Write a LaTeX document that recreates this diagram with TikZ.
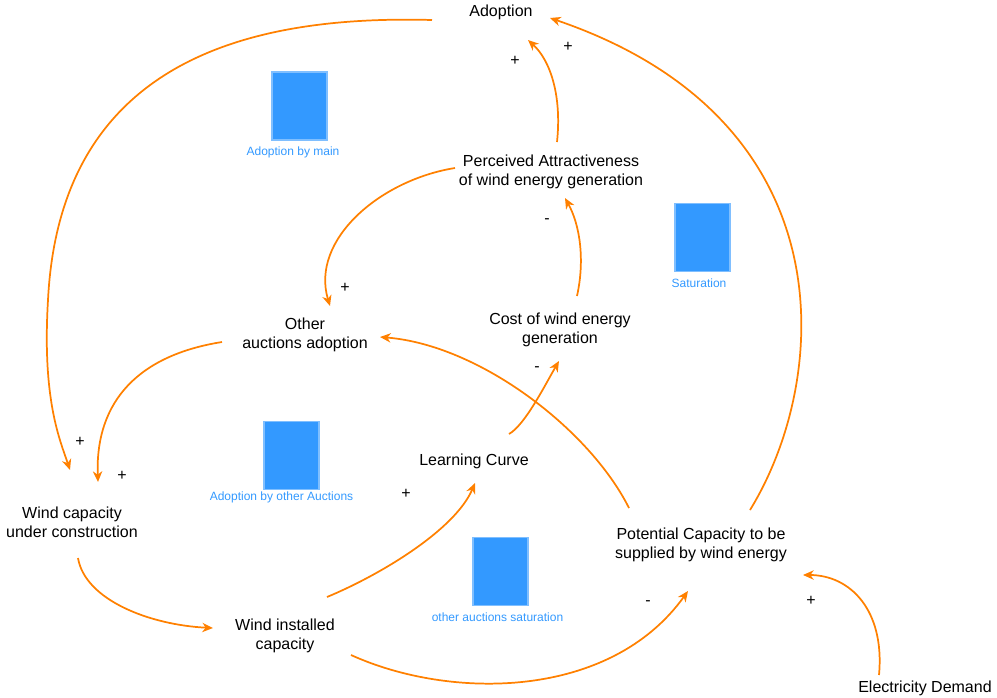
\documentclass[tikz,border=0pt]{standalone}
\usepackage{fontspec}
\setmainfont{Liberation Sans}
\usetikzlibrary{arrows.meta, positioning}
\definecolor{linkorange}{HTML}{FF8000}
\definecolor{boxblue}{HTML}{3399FF}
\definecolor{boxedge}{HTML}{80BFFF}

\begin{document}
\begin{tikzpicture}[x=0.75pt, y=-0.75pt,
    var/.style={align=center, font=\fontsize{12pt}{14pt}\selectfont, inner sep=1pt},
    sign/.style={font=\fontsize{12pt}{14pt}\selectfont, inner sep=0pt},
    stock/.style={draw=boxedge, fill=boxblue, line width=0.8pt,
        minimum width=41.25pt, minimum height=51pt, inner sep=0pt},
    stocklabel/.style={text=boxblue, font=\fontsize{9pt}{11pt}\selectfont, inner sep=0pt},
    link/.style={draw=linkorange, line width=1.3pt,
        -{Stealth[length=8pt, width=7pt, inset=2.5pt]}}]

\useasboundingbox (0,0) rectangle (997,697);

% Variables
\node[var] (adoption) at (501,12) {Adoption};
\node[var] (perceived) at (551,172) {Perceived Attractiveness\\of wind energy generation};
\node[var] (cost) at (560,330) {Cost of wind energy\\generation};
\node[var] (other) at (305,335) {Other\\auctions adoption};
\node[var] (learning) at (474,461) {Learning Curve};
\node[var] (wcuc) at (72,522) {Wind capacity\\under construction};
\node[var] (installed) at (285,636) {Wind installed\\capacity};
\node[var] (potential) at (701,545) {Potential Capacity to be\\supplied by wind energy};
\node[var] (demand) at (925,688) {Electricity Demand};

% Loop boxes
\node[stock] (mainbox) at (299.5,106) {};
\node[stocklabel] (mainlabel) at (293,152) {Adoption by main};
\node[stock] (satbox) at (702.5,237.5) {};
\node[stocklabel] (satlabel) at (699,283) {Saturation};
\node[stock] (otherbox) at (291.5,455.5) {};
\node[stocklabel] (otherlabel) at (281.5,497) {Adoption by other Auctions};
\node[stock] (osatbox) at (500.5,571.5) {};
\node[stocklabel] (osatlabel) at (497.5,617) {other auctions saturation};

% Links
\draw[link] ([shift={(-69,8)}]adoption.center) .. controls (250,15) and (60,60) .. (48,300)
    .. controls (42,400) and (60,440) .. ([shift={(-2,-52)}]wcuc.center);
\draw[link] ([shift={(6,-30)}]perceived.center) .. controls (562,95) and (550,60) .. ([shift={(27,28)}]adoption.center);
\draw[link] ([shift={(49,-35)}]potential.center) .. controls (830,380) and (850,120) .. ([shift={(49,6)}]adoption.center);
\draw[link] ([shift={(17,-34)}]cost.center) .. controls (585,260) and (580,225) .. ([shift={(14,26)}]perceived.center);
\draw[link] ([shift={(-96,-4)}]perceived.center) .. controls (380,180) and (310,240) .. ([shift={(25,-29)}]other.center);
\draw[link] ([shift={(35,-27)}]learning.center) .. controls (525,425) and (545,385) .. ([shift={(-1,31)}]cost.center);
\draw[link] ([shift={(-72,-37)}]potential.center) .. controls (590,430) and (480,345) .. ([shift={(75,2)}]other.center);
\draw[link] ([shift={(-83,7)}]other.center) .. controls (140,355) and (95,400) .. ([shift={(26,-40)}]wcuc.center);
\draw[link] ([shift={(6,36)}]wcuc.center) .. controls (85,600) and (150,625) .. ([shift={(-72,-8)}]installed.center);
\draw[link] ([shift={(42,-39)}]installed.center) .. controls (380,575) and (455,530) .. ([shift={(1,22)}]learning.center);
\draw[link] ([shift={(66,19)}]installed.center) .. controls (450,700) and (610,700) .. ([shift={(-13,46)}]potential.center);
\draw[link] ([shift={(-46,-13)}]demand.center) .. controls (885,610) and (850,575) .. ([shift={(102,30)}]potential.center);

% Polarities
\node[sign] (s1) at (80,442) {+};
\node[sign] (s2) at (122,476) {+};
\node[sign] (s3) at (515,61) {+};
\node[sign] (s4) at (568,47) {+};
\node[sign] (s5) at (547,221) {-};
\node[sign] (s6) at (345,288) {+};
\node[sign] (s7) at (537,369) {-};
\node[sign] (s8) at (406,494) {+};
\node[sign] (s9) at (648,603) {-};
\node[sign] (s10) at (811,601) {+};

\end{tikzpicture}
\end{document}
